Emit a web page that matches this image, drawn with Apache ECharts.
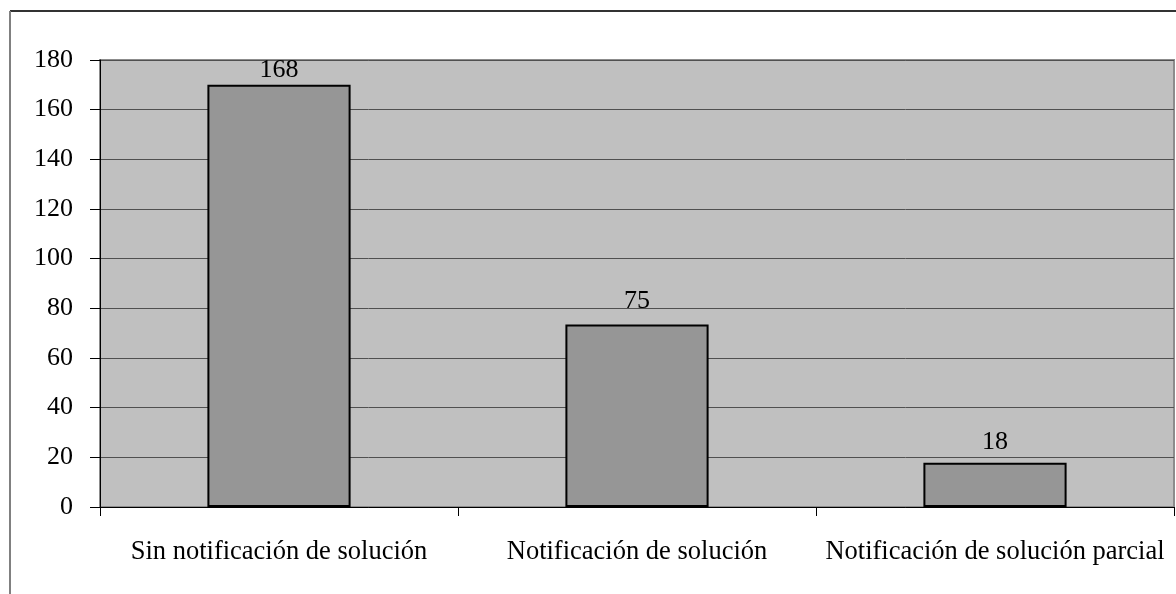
<!DOCTYPE html>
<html>
<head>
<meta charset="utf-8">
<script src="https://cdn.jsdelivr.net/npm/echarts@6/dist/echarts.min.js"></script>
<style>html,body{margin:0;padding:0;background:#fff;}#c{width:1176px;height:594px;}</style>
</head>
<body>
<div id="c"></div>
<script>
var categories = ['Sin notificación de solución', 'Notificación de solución', 'Notificación de solución parcial'];
var barValues = [170, 73.5, 17.8];
var labelValues = [168, 75, 18];
var yMin = 0, yMax = 180, yStep = 20;

var FONT = '"Liberation Serif", "Times New Roman", serif';
var chart = echarts.init(document.getElementById('c'), null, {renderer: 'canvas'});
chart.setOption({
  animation: false,
  backgroundColor: '#ffffff',
  graphic: [
    {type: 'line', shape: {x1: 10, y1: 11, x2: 1176, y2: 11}, style: {stroke: '#333333', lineWidth: 2}},
    {type: 'line', shape: {x1: 10, y1: 11, x2: 10, y2: 594}, style: {stroke: '#808080', lineWidth: 2}}
  ],
  grid: {
    left: 100, top: 60, right: 2, bottom: 87,
    show: true, backgroundColor: '#C0C0C0', borderColor: '#8c8c8c', borderWidth: 2
  },
  xAxis: {
    type: 'category',
    data: categories,
    boundaryGap: true,
    axisLine: {show: true, lineStyle: {color: '#000', width: 1}},
    axisTick: {show: true, length: 9, lineStyle: {color: '#000'}},
    axisLabel: {color: '#000', fontFamily: FONT, fontSize: 26.5, margin: 32, interval: 0}
  },
  yAxis: {
    type: 'value',
    min: yMin, max: yMax, interval: yStep,
    axisLine: {show: true, lineStyle: {color: '#000', width: 1}},
    axisTick: {show: true, length: 10, lineStyle: {color: '#000'}},
    axisLabel: {color: '#000', fontFamily: FONT, fontSize: 26, margin: 27},
    splitLine: {show: true, lineStyle: {color: '#505050', width: 1}}
  },
  series: [{
    type: 'bar',
    data: barValues,
    barWidth: '40%',
    itemStyle: {color: '#969696', borderColor: '#000', borderWidth: 2},
    z: 2
  }, {
    type: 'bar',
    data: labelValues,
    barWidth: '40%',
    barGap: '-100%',
    silent: true,
    itemStyle: {color: 'rgba(0,0,0,0)', borderWidth: 0},
    label: {
      show: true, position: 'top', distance: 7,
      color: '#000', fontFamily: FONT, fontSize: 26
    },
    z: 3
  }]
});
</script>
</body>
</html>
